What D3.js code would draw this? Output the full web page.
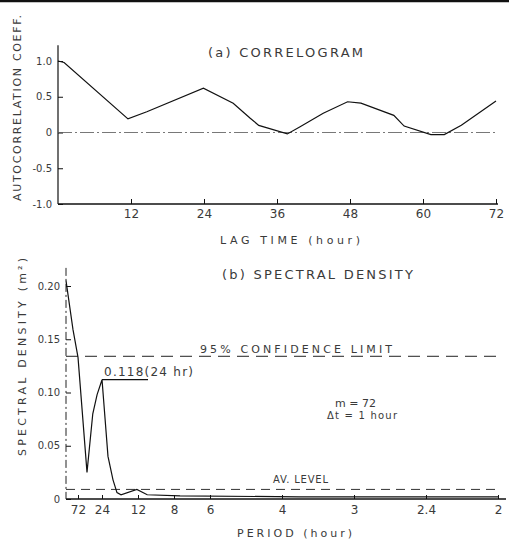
<!DOCTYPE html>
<html>
<head>
<meta charset="utf-8">
<script src="https://cdn.jsdelivr.net/npm/d3@7"></script>
<style>
  body { margin: 0; background: #fff; }
  text { font-family: "DejaVu Sans", sans-serif; fill: #3a3a3a; }
</style>
</head>
<body>
<script>
const svgWidth = 509;
const svgHeight = 543;

// (a) correlogram : lag (hour) vs autocorrelation coefficient
const lagHours = [0, 1, 11.5, 14.6, 23.9, 28.8, 31.6, 33, 37.7, 39.8, 43.6, 47.6, 49.8, 55.2, 56.9, 61.3, 63.5, 66.3, 72];
const autoCorr = [1.0, 0.98, 0.19, 0.29, 0.62, 0.41, 0.2, 0.1, -0.02, 0.08, 0.27, 0.43, 0.41, 0.24, 0.09, -0.03, -0.03, 0.1, 0.44];
const lagTicks = [12, 24, 36, 48, 60, 72];
const corrTicks = [1, 0.5, 0, -0.5, -1];
const corrTickLabels = ['1.0', '0.5', '0', '-0.5', '-1.0'];

// (b) spectral density : frequency (cycles/hour) vs density
const specFreq = [0, 0.0081, 0.0139, 0.0243, 0.031, 0.036, 0.0417, 0.0486, 0.0544, 0.059, 0.0637, 0.082, 0.094, 0.132, 0.27, 0.5];
const specValue = [0.205, 0.159, 0.133, 0.025, 0.08, 0.098, 0.112, 0.04, 0.018, 0.006, 0.004, 0.009, 0.004, 0.003, 0.002, 0.002];
const periodTicks = [72, 24, 12, 8, 6, 4, 3, 2.4, 2];
const periodTickLabels = ['72', '24', '12', '8', '6', '4', '3', '2.4', '2'];
const specTicks = [0, 0.05, 0.10, 0.15, 0.20];
const specTickLabels = ['0', '0.05', '0.10', '0.15', '0.20'];
const confLimit = 0.134;
const avLevel = 0.009;
const peakValue = 0.112;
const peakFreq = 1 / 24;

const svg = d3.select('body')
              .append('svg')
              .attr('width', svgWidth)
              .attr('height', svgHeight);

// scanned page edge
svg.append('line')
   .attr('x1', 0).attr('x2', svgWidth)
   .attr('y1', 1).attr('y2', 1)
   .attr('stroke', '#111').attr('stroke-width', 2.5);

// ---------- (a) correlogram ----------
const xA = d3.scaleLinear().domain([0, 72]).range([58, 496]);
const yA = d3.scaleLinear().domain([-1, 1]).range([204, 61]);

const axA = svg.append('g')
               .attr('transform', `translate(0,${yA(-1)})`)
               .call(d3.axisBottom(xA).tickValues(lagTicks).tickSize(-5).tickPadding(4).tickSizeOuter(0));
axA.select('.domain').remove();
axA.selectAll('text').style('font-size', '12px').attr('dy', '0.85em');
axA.append('line')
   .attr('x1', xA(0)).attr('x2', xA(72) + 2)
   .attr('stroke', '#111').attr('stroke-width', 1.4);

const ayA = svg.append('g')
               .attr('transform', `translate(${xA(0)},0)`)
               .call(d3.axisLeft(yA).tickValues(corrTicks).tickSize(-5).tickPadding(6)
                       .tickFormat((d, i) => corrTickLabels[i]));
ayA.select('.domain').remove();
ayA.selectAll('text').style('font-size', '10px');
ayA.append('line')
   .attr('y1', yA(1.22)).attr('y2', yA(-1))
   .attr('stroke', '#111').attr('stroke-width', 1.2);

svg.selectAll('.tick line').attr('stroke', '#111');

// zero reference line
svg.append('line')
   .attr('x1', xA(0)).attr('x2', xA(72))
   .attr('y1', yA(0)).attr('y2', yA(0))
   .attr('stroke', '#555').attr('stroke-width', 0.8)
   .attr('stroke-dasharray', '14,3,2,3');

const lineA = d3.line()
                .x((d, i) => xA(lagHours[i]))
                .y(d => yA(d));

svg.append('path')
   .datum(autoCorr)
   .attr('d', lineA)
   .attr('fill', 'none')
   .attr('stroke', '#111')
   .attr('stroke-width', 1.2);

svg.append('text')
   .attr('x', 208).attr('y', 57)
   .attr('textLength', 155).attr('lengthAdjust', 'spacing')
   .style('font-size', '13px')
   .text('(a) CORRELOGRAM');

svg.append('text')
   .attr('x', 220).attr('y', 244)
   .attr('textLength', 140).attr('lengthAdjust', 'spacing')
   .style('font-size', '11px')
   .text('LAG TIME (hour)');

svg.append('text')
   .attr('transform', 'translate(21,108) rotate(-90)')
   .attr('text-anchor', 'middle')
   .attr('textLength', 186).attr('lengthAdjust', 'spacing')
   .style('font-size', '11px')
   .text('AUTOCORRELATION COEFF.');

// ---------- (b) spectral density ----------
const xB = d3.scaleLinear().domain([0, 0.5]).range([66, 498]);
const yB = d3.scaleLinear().domain([0, 0.2]).range([499, 286]);

const axB = svg.append('g')
               .attr('transform', `translate(0,${yB(0)})`)
               .call(d3.axisBottom(xB).tickValues(periodTicks.map(p => 1 / p))
                       .tickSize(-4).tickPadding(5)
                       .tickFormat((d, i) => periodTickLabels[i]));
axB.select('.domain').remove();
axB.selectAll('text').style('font-size', '12px').attr('dy', '0.8em');
axB.selectAll('.tick line').attr('stroke', '#111');
axB.append('line')
   .attr('x1', xB(0)).attr('x2', 506)
   .attr('stroke', '#111').attr('stroke-width', 1.4);

const ayB = svg.append('g')
               .attr('transform', `translate(${xB(0)},0)`)
               .call(d3.axisLeft(yB).tickValues(specTicks).tickSize(-5).tickPadding(6)
                       .tickFormat((d, i) => specTickLabels[i]));
ayB.select('.domain').remove();
ayB.selectAll('text').style('font-size', '10px');
ayB.selectAll('.tick line').attr('stroke', '#111');
ayB.append('line')
   .attr('y1', yB(0.217)).attr('y2', yB(0))
   .attr('stroke', '#222').attr('stroke-width', 1)
   .attr('stroke-dasharray', '8,3,2,3');

// 95% confidence limit
svg.append('line')
   .attr('x1', xB(0)).attr('x2', xB(0.5))
   .attr('y1', yB(confLimit)).attr('y2', yB(confLimit))
   .attr('stroke', '#222').attr('stroke-width', 1)
   .attr('stroke-dasharray', '12,7');
svg.append('rect')
   .attr('x', 198).attr('y', yB(confLimit) - 13)
   .attr('width', 196).attr('height', 11)
   .attr('fill', '#fff');
svg.append('text')
   .attr('x', 200).attr('y', yB(confLimit) - 3)
   .attr('textLength', 192).attr('lengthAdjust', 'spacing')
   .style('font-size', '11px')
   .text('95% CONFIDENCE  LIMIT');

// average level
svg.append('line')
   .attr('x1', xB(0)).attr('x2', xB(0.5))
   .attr('y1', yB(avLevel)).attr('y2', yB(avLevel))
   .attr('stroke', '#333').attr('stroke-width', 1)
   .attr('stroke-dasharray', '9,6');
svg.append('text')
   .attr('x', 273).attr('y', yB(avLevel) - 6)
   .attr('textLength', 55).attr('lengthAdjust', 'spacing')
   .style('font-size', '10px')
   .text('AV. LEVEL');

const lineB = d3.line()
                .x((d, i) => xB(specFreq[i]))
                .y(d => yB(d));

svg.append('path')
   .datum(specValue)
   .attr('d', lineB)
   .attr('fill', 'none')
   .attr('stroke', '#111')
   .attr('stroke-width', 1.2);

// peak annotation
svg.append('line')
   .attr('x1', xB(peakFreq)).attr('x2', xB(peakFreq) + 46)
   .attr('y1', yB(peakValue)).attr('y2', yB(peakValue))
   .attr('stroke', '#111').attr('stroke-width', 1.2);
svg.append('text')
   .attr('x', 104).attr('y', yB(peakValue) - 4)
   .attr('textLength', 89).attr('lengthAdjust', 'spacing')
   .style('font-size', '12px')
   .text('0.118(24 hr)');

svg.append('text')
   .attr('x', 335).attr('y', 407)
   .style('font-size', '11px')
   .text('m = 72');
svg.append('text')
   .attr('x', 327).attr('y', 419)
   .attr('textLength', 70).attr('lengthAdjust', 'spacing')
   .style('font-size', '10px')
   .text('Δt = 1 hour');

svg.append('text')
   .attr('x', 222).attr('y', 279)
   .attr('textLength', 191).attr('lengthAdjust', 'spacing')
   .style('font-size', '13px')
   .text('(b) SPECTRAL DENSITY');

svg.append('text')
   .attr('x', 237).attr('y', 537)
   .attr('textLength', 115).attr('lengthAdjust', 'spacing')
   .style('font-size', '11px')
   .text('PERIOD (hour)');

svg.append('text')
   .attr('transform', 'translate(26,357) rotate(-90)')
   .attr('text-anchor', 'middle')
   .attr('textLength', 198).attr('lengthAdjust', 'spacing')
   .style('font-size', '11px')
   .text('SPECTRAL DENSITY (m²)');
</script>
</body>
</html>
